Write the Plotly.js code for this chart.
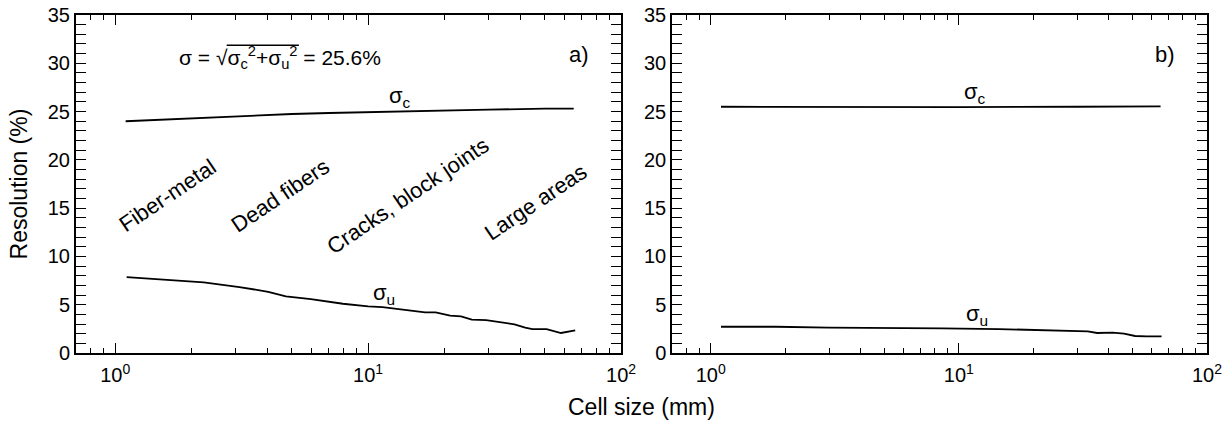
<!DOCTYPE html>
<html>
<head>
<meta charset="utf-8">
<script src="https://cdn.plot.ly/plotly-3.0.1.min.js"></script>
<style>html,body{margin:0;padding:0;background:#fff;}#plot{width:1231px;height:422px;}</style>
</head>
<body>
<div id="plot"></div>
<script>
// ---- data ----
const cellA_c = [1.1, 2, 3, 5, 7, 10, 15, 20, 30, 50, 65];
const sigmaC_a = [24.0, 24.3, 24.5, 24.75, 24.85, 24.95, 25.05, 25.1, 25.2, 25.3, 25.3];

const cellA_u = [1.11, 1.62, 2.24, 3.1, 4.03, 4.73, 5.94, 7.95, 10, 11.4, 13.4, 15.8, 16.8, 18.5, 21.1, 23.3, 25.7, 29.3, 33.3, 37.9, 41.8, 44.6, 50.8, 57.9, 65.9];
const sigmaU_a = [7.86, 7.59, 7.31, 6.83, 6.34, 5.86, 5.59, 5.10, 4.83, 4.76, 4.55, 4.34, 4.2, 4.2, 3.86, 3.79, 3.45, 3.41, 3.17, 2.97, 2.62, 2.48, 2.48, 2.07, 2.34];

const cellB_c = [1.1, 3, 10, 30, 65];
const sigmaC_b = [25.5, 25.47, 25.47, 25.5, 25.53];

const cellB_u = [1.1, 1.83, 2.99, 5.06, 8.57, 14.5, 24.6, 33.1, 36.1, 41.7, 46.3, 51.3, 57, 65.6];
const sigmaU_b = [2.72, 2.72, 2.62, 2.62, 2.55, 2.48, 2.34, 2.24, 2.07, 2.1, 2.0, 1.76, 1.72, 1.72];

const xTickVals = [1, 10, 100];
const xTickText = ['10<sup>0</sup>', '10<sup>1</sup>', '10<sup>2</sup>'];
const xMinorVals = [0.8, 0.9, 2, 3, 4, 5, 6, 7, 8, 9, 20, 30, 40, 50, 60, 70, 80, 90];

const regionLabels = ['Fiber-metal', 'Dead fibers', 'Cracks, block joints', 'Large areas'];
const regionX = [1.61, 4.5, 14.4, 45.7];
const regionY = [16.3, 16.3, 16.3, 15.6];

// ---- figure ----
const FONT = 'Liberation Sans, Arial, Helvetica, sans-serif';
const W = 1231, H = 422;
const M = {l: 76, r: 24, t: 15, b: 69, autoexpand: false};
const DOM_A = [0, 0.4819], DOM_B = [0.5272, 1];
const XR = [Math.log10(0.7), 2], YR = [0, 35];

const traces = [
  {x: cellA_c, y: sigmaC_a, xaxis: 'x', yaxis: 'y', mode: 'lines', line: {color: '#000', width: 1.8}},
  {x: cellA_u, y: sigmaU_a, xaxis: 'x', yaxis: 'y', mode: 'lines', line: {color: '#000', width: 1.8}},
  {x: cellB_c, y: sigmaC_b, xaxis: 'x2', yaxis: 'y2', mode: 'lines', line: {color: '#000', width: 1.8}},
  {x: cellB_u, y: sigmaU_b, xaxis: 'x2', yaxis: 'y2', mode: 'lines', line: {color: '#000', width: 1.8}},
  {x: [], y: [], xaxis: 'x3', yaxis: 'y'},
  {x: [], y: [], xaxis: 'x4', yaxis: 'y2'}
];

function xAxis(domain, anchor) {
  return {
    type: 'log', domain: domain, anchor: anchor, range: XR,
    tickmode: 'array', tickvals: xTickVals, ticktext: xTickText,
    ticks: 'inside', ticklen: 10, tickwidth: 1.2, tickcolor: '#000',
    showline: true, linewidth: 2, linecolor: '#000', mirror: 'allticks',
    showgrid: false, zeroline: false, ticklabelstandoff: 3,
    tickfont: {family: FONT, size: 20, color: '#000'}
  };
}
function xMinorAxis(domain, anchor, over) {
  return {
    type: 'log', domain: domain, anchor: anchor, overlaying: over, range: XR,
    tickmode: 'array', tickvals: xMinorVals, showticklabels: false,
    ticks: 'inside', ticklen: 5, tickcolor: '#000',
    showline: true, linecolor: '#000', mirror: 'ticks',
    showgrid: false, zeroline: false
  };
}
function yAxis(anchor) {
  return {
    domain: [0, 1], anchor: anchor, range: YR,
    tickmode: 'linear', tick0: 0, dtick: 5,
    ticks: 'inside', ticklen: 10, tickwidth: 1.2, tickcolor: '#000',
    minor: {ticks: 'inside', ticklen: 6, tickwidth: 1.2, tickcolor: '#000', dtick: 1, showgrid: false},
    showline: true, linewidth: 2, linecolor: '#000', mirror: 'allticks',
    showgrid: false, zeroline: false,
    tickfont: {family: FONT, size: 20, color: '#000'}
  };
}

const annFont = {family: FONT, size: 22, color: '#000'};
const FORM_SIZE = 21;
const formulaX = 4.5, formulaY = 30.6;
const annotations = [];
regionLabels.forEach((t, i) => {
  annotations.push({xref: 'x', yref: 'y', x: Math.log10(regionX[i]), y: regionY[i], text: t,
    showarrow: false, textangle: -34, font: annFont});
});
annotations.push(
  {xref: 'x', yref: 'y', x: Math.log10(13.4), y: 26.5, text: 'σ<sub>c</sub>', showarrow: false, font: annFont},
  {xref: 'x', yref: 'y', x: Math.log10(11.6), y: 6.1, text: 'σ<sub>u</sub>', showarrow: false, font: annFont},
  {xref: 'x2', yref: 'y2', x: Math.log10(11.6), y: 26.9, text: 'σ<sub>c</sub>', showarrow: false, font: annFont},
  {xref: 'x2', yref: 'y2', x: Math.log10(11.8), y: 3.9, text: 'σ<sub>u</sub>', showarrow: false, font: annFont},
  {xref: 'x', yref: 'y', x: Math.log10(formulaX), y: formulaY,
    text: 'σ = √σ<sub>c</sub><sup>2</sup>+σ<sub>u</sub><sup>2</sup> = 25.6%',
    showarrow: false, font: {family: FONT, size: FORM_SIZE, color: '#000'}},
  {xref: 'x', yref: 'y', x: Math.log10(68), y: 30.9, text: 'a)', showarrow: false, font: annFont},
  {xref: 'x2', yref: 'y2', x: Math.log10(68), y: 30.9, text: 'b)', showarrow: false, font: annFont},
  {xref: 'paper', yref: 'paper', x: 0.5, y: -0.16, xanchor: 'center', yanchor: 'middle',
    text: 'Cell size (mm)', showarrow: false, font: {family: FONT, size: 23, color: '#000'}},
  {xref: 'paper', yref: 'paper', x: -0.05, y: 0.5, xanchor: 'center', yanchor: 'middle', textangle: -90,
    text: 'Resolution (%)', showarrow: false, font: {family: FONT, size: 23, color: '#000'}}
);

// radical bar over the radicand: measure the formula pieces with a canvas
const shapes = [];
(function () {
  const cv = document.createElement('canvas').getContext('2d');
  const big = FORM_SIZE, small = FORM_SIZE * 0.7;
  const w = (t, s) => { cv.font = s + 'px ' + FONT; return cv.measureText(t).width; };
  const wLead = w('σ = ', big);
  const wRoot = w('√', big);
  const wRad = w('σ', big) + w('c', small) + w('2', small) + w('+', big) + w('σ', big) + w('u', small) + w('2', small);
  const wTail = w(' = 25.6%', big);
  const total = wLead + wRoot + wRad + wTail;
  const plotW = W - M.l - M.r, plotH = H - M.t - M.b;
  const axW = (DOM_A[1] - DOM_A[0]) * plotW;
  const cx = DOM_A[0] * plotW + (Math.log10(formulaX) - XR[0]) / (XR[1] - XR[0]) * axW;
  const x0 = cx - total / 2 + wLead + wRoot * 0.9;
  const x1 = x0 - wRoot * 0.9 + wRoot + wRad + 1;
  const cy = (formulaY - YR[0]) / (YR[1] - YR[0]) * plotH;
  const yBar = cy + big * 0.58;
  shapes.push({type: 'line', xref: 'paper', yref: 'paper',
    x0: x0 / plotW, x1: x1 / plotW, y0: yBar / plotH, y1: yBar / plotH,
    line: {color: '#000', width: 1.4}});
})();

const layout = {
  width: W, height: H,
  margin: M,
  paper_bgcolor: '#fff', plot_bgcolor: '#fff',
  showlegend: false,
  xaxis: xAxis(DOM_A, 'y'),
  yaxis: yAxis('x'),
  xaxis2: xAxis(DOM_B, 'y2'),
  yaxis2: yAxis('x2'),
  xaxis3: xMinorAxis(DOM_A, 'y', 'x'),
  xaxis4: xMinorAxis(DOM_B, 'y2', 'x2'),
  annotations: annotations,
  shapes: shapes
};

Plotly.newPlot('plot', traces, layout, {displayModeBar: false});
</script>
</body>
</html>
